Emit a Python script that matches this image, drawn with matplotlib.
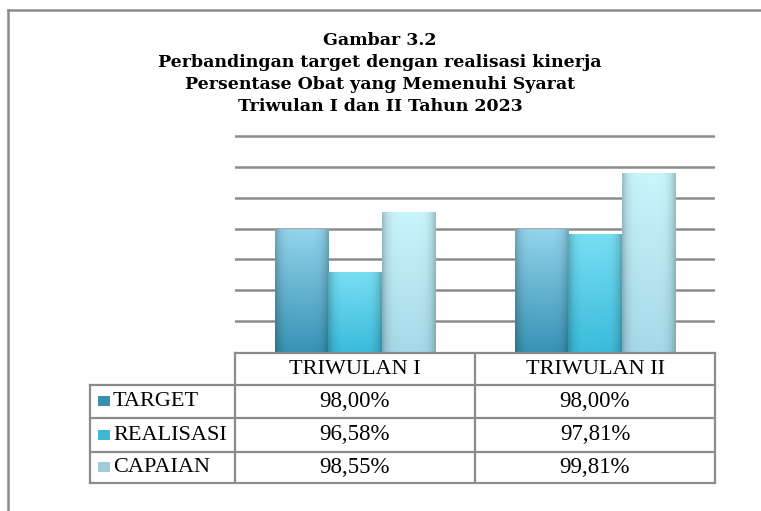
import numpy as np
import matplotlib
matplotlib.use('Agg')
import matplotlib.pyplot as plt
from matplotlib.patches import Rectangle
from matplotlib.lines import Line2D
from matplotlib.colors import to_rgb
from matplotlib.transforms import Affine2D

# data
quarters = ['TRIWULAN I', 'TRIWULAN II']
series = ['TARGET', 'REALISASI', 'CAPAIAN']
target = [98.00, 98.00]
realisasi = [96.58, 97.81]
capaian = [98.55, 99.81]
y_min, y_max = 94, 101

title = ('Gambar 3.2\n'
         'Perbandingan target dengan realisasi kinerja\n'
         'Persentase Obat yang Memenuhi Syarat\n'
         'Triwulan I dan II Tahun 2023')

# (top colour, bottom colour) of each bar gradient
grad_colors = [('#93d4ec', '#3893b5'),
               ('#78def3', '#3bbcdc'),
               ('#c9f5fc', '#a6d9e8')]
key_colors = ['#3a8fab', '#3fb6d2', '#a3c9d6']
grid_col = '#8c8c8c'


def fmt(v):
    return f'{v:.2f}'.replace('.', ',') + '%'


def bar_gradient(top, bottom, n=64, m=32):
    t = np.linspace(0, 1, n)[:, None]
    col = np.array(to_rgb(top)) * (1 - t) + np.array(to_rgb(bottom)) * t
    img = np.broadcast_to(col[:, None, :], (n, m, 3)).copy()
    xs = np.linspace(-1, 1, m)
    img *= (1 - 0.22 * np.abs(xs) ** 5)[None, :, None]
    return img


W, H = 761, 511
fig = plt.figure(figsize=(W / 100, H / 100), dpi=100)
# pixel coords measured from the top-left corner
px = Affine2D().scale(1 / W, -1 / H).translate(0, 1) + fig.transFigure

unit = 216 / 7  # pixels per percent on the value axis
ax = fig.add_axes([235 / W, 1 - 352 / H, 480 / W, (216 + 0.1 * unit) / H])

x = np.arange(len(quarters))
bw = 1 / 4.5
vals = [target, realisasi, capaian]
for i, v in enumerate(vals):
    bars = ax.bar(x + (i - 1) * bw, np.array(v) - y_min, bw, bottom=y_min,
                  color=grad_colors[i][1], edgecolor='none', zorder=3)
    img = bar_gradient(*grad_colors[i])
    for b in bars:
        x0, y0 = b.get_x(), b.get_y()
        im = ax.imshow(img, extent=[x0, x0 + b.get_width(), y0, y0 + b.get_height()],
                       aspect='auto', zorder=4, interpolation='bilinear')
        im.set_clip_path(b)

ax.set_xlim(-0.5, 1.5)
ax.set_ylim(y_min, y_max + 0.1)
ax.set_yticks(range(y_min + 1, y_max + 1))
ax.yaxis.grid(True, color=grid_col, lw=1.8)
ax.set_axisbelow(True)
ax.tick_params(length=0, labelleft=False, labelbottom=False)
for s in ax.spines.values():
    s.set_visible(False)

# data table under the plot
lk = dict(color=grid_col, lw=1.6, transform=px, solid_capstyle='projecting')
row_edges = [385, 418, 452, 483]
fig.add_artist(Line2D([235, 715], [353, 353], **lk))
for ry in row_edges:
    fig.add_artist(Line2D([90, 715], [ry, ry], **lk))
fig.add_artist(Line2D([90, 90], [385, 483], **lk))
for cx in [235, 475, 715]:
    fig.add_artist(Line2D([cx, cx], [353, 483], **lk))

col_centers = [355, 595]
tfont = dict(fontfamily='Liberation Serif', transform=px, va='center')
for cx, q in zip(col_centers, quarters):
    fig.text(cx, 370, q, ha='center', fontsize=16, **tfont)
for r, (name, v) in enumerate(zip(series, vals)):
    ry = (row_edges[r] + row_edges[r + 1]) / 2
    fig.add_artist(Rectangle((98, ry + 5), 12, -10, transform=px,
                             facecolor=key_colors[r], edgecolor='none'))
    fig.text(113, ry, name, ha='left', fontsize=16, **tfont)
    for cx, val in zip(col_centers, v):
        fig.text(cx, ry, fmt(val), ha='center', fontsize=16.5, **tfont)

fig.text(380 / W, 1 - 32 / H, title, ha='center', va='top',
         fontfamily='DejaVu Serif', fontweight='bold', fontsize=12.5,
         linespacing=1.38)

# outer frame (left and top only)
frame = dict(color='#8a8a8a', lw=1.8, transform=fig.transFigure)
fig.add_artist(Line2D([8 / W, 8 / W], [0, 1 - 10 / H], **frame))
fig.add_artist(Line2D([8 / W, 1], [1 - 10 / H, 1 - 10 / H], **frame))

fig.savefig('out.png', dpi=100)
